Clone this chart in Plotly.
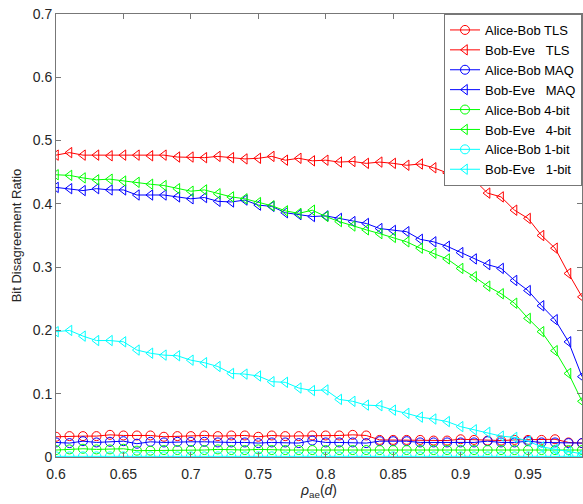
import plotly.graph_objects as go

x = [round(0.60 + 0.01 * i, 2) for i in range(40)]

ab_tls = [0.032, 0.033, 0.033, 0.033, 0.035, 0.034, 0.034, 0.034, 0.032, 0.033,
          0.033, 0.034, 0.033, 0.034, 0.034, 0.032, 0.034, 0.033, 0.033, 0.034,
          0.034, 0.034, 0.035, 0.034, 0.027, 0.027, 0.027, 0.027, 0.026, 0.026,
          0.028, 0.027, 0.026, 0.026, 0.027, 0.027, 0.027, 0.028, 0.023, 0.022]
be_tls = [0.477, 0.481, 0.477, 0.477, 0.476, 0.477, 0.477, 0.476, 0.477, 0.474,
          0.474, 0.473, 0.475, 0.473, 0.471, 0.472, 0.475, 0.469, 0.472, 0.468,
          0.469, 0.466, 0.467, 0.464, 0.466, 0.464, 0.461, 0.463, 0.457, 0.449,
          0.449, 0.438, 0.417, 0.411, 0.390, 0.377, 0.350, 0.330, 0.290, 0.253]
ab_maq = [0.023, 0.022, 0.025, 0.023, 0.024, 0.025, 0.021, 0.024, 0.023, 0.024,
          0.024, 0.024, 0.023, 0.023, 0.023, 0.022, 0.023, 0.023, 0.022, 0.026,
          0.023, 0.023, 0.023, 0.022, 0.025, 0.025, 0.025, 0.023, 0.023, 0.023,
          0.023, 0.023, 0.025, 0.023, 0.023, 0.025, 0.023, 0.023, 0.022, 0.022]
be_maq = [0.426, 0.424, 0.421, 0.424, 0.422, 0.422, 0.414, 0.414, 0.414, 0.411,
          0.408, 0.410, 0.404, 0.403, 0.406, 0.398, 0.396, 0.386, 0.383, 0.380,
          0.381, 0.377, 0.372, 0.369, 0.361, 0.358, 0.356, 0.344, 0.340, 0.333,
          0.323, 0.313, 0.304, 0.298, 0.279, 0.263, 0.239, 0.217, 0.182, 0.127]
ab_4bit = [0.011, 0.012, 0.013, 0.012, 0.012, 0.013, 0.010, 0.010, 0.011, 0.011,
           0.011, 0.011, 0.012, 0.011, 0.011, 0.012, 0.011, 0.011, 0.011, 0.011,
           0.011, 0.011, 0.011, 0.011, 0.011, 0.011, 0.011, 0.011, 0.011, 0.011,
           0.011, 0.011, 0.011, 0.011, 0.011, 0.011, 0.011, 0.011, 0.011, 0.011]
be_4bit = [0.446, 0.445, 0.441, 0.438, 0.439, 0.436, 0.434, 0.431, 0.429, 0.424,
           0.420, 0.422, 0.416, 0.411, 0.408, 0.402, 0.397, 0.389, 0.385, 0.390,
           0.380, 0.372, 0.365, 0.359, 0.353, 0.347, 0.340, 0.330, 0.322, 0.313,
           0.298, 0.285, 0.270, 0.258, 0.243, 0.219, 0.198, 0.168, 0.132, 0.088]
ab_1bit = [0.001] * 40
be_1bit = [0.198, 0.200, 0.191, 0.184, 0.184, 0.182, 0.169, 0.164, 0.161, 0.160,
           0.153, 0.149, 0.143, 0.132, 0.131, 0.128, 0.119, 0.118, 0.109, 0.105,
           0.106, 0.091, 0.088, 0.082, 0.081, 0.074, 0.069, 0.063, 0.060, 0.056,
           0.048, 0.043, 0.039, 0.033, 0.031, 0.025, 0.016, 0.012, 0.008, 0.005]

NB = "\u00a0"
series = [
    ("Alice-Bob TLS", ab_tls, "#ff0000", "circle-open"),
    ("Bob-Eve" + NB * 3 + "TLS", be_tls, "#ff0000", "triangle-left-open"),
    ("Alice-Bob MAQ", ab_maq, "#0000ff", "circle-open"),
    ("Bob-Eve" + NB * 3 + "MAQ", be_maq, "#0000ff", "triangle-left-open"),
    ("Alice-Bob 4-bit", ab_4bit, "#00ff00", "circle-open"),
    ("Bob-Eve" + NB * 3 + "4-bit", be_4bit, "#00ff00", "triangle-left-open"),
    ("Alice-Bob 1-bit", ab_1bit, "#00ffff", "circle-open"),
    ("Bob-Eve" + NB * 3 + "1-bit", be_1bit, "#00ffff", "triangle-left-open"),
]

fig = go.Figure()
for name, ys, col, sym in series:
    fig.add_trace(go.Scatter(
        x=x, y=ys, name=name, mode="lines+markers",
        line=dict(color=col, width=1),
        marker=dict(symbol=sym, size=9, color=col, line=dict(color=col, width=1)),
    ))

axis_common = dict(
    showgrid=False, zeroline=False, showline=True, linecolor="#777777", linewidth=1,
    mirror="ticks", ticks="inside", ticklen=5, tickcolor="#777777",
    tickfont=dict(family="Liberation Sans, Arial", size=14, color="#262626"),
)
fig.update_xaxes(range=[0.6, 0.99], tickvals=[0.6, 0.65, 0.7, 0.75, 0.8, 0.85, 0.9, 0.95],
                 ticktext=["0.6", "0.65", "0.7", "0.75", "0.8", "0.85", "0.9", "0.95"],
                 ticklabelstandoff=4,
                 title=dict(text="<i>ρ</i><sub>ae</sub>(<i>d</i>)", standoff=2,
                            font=dict(family="Liberation Sans, Arial", size=14, color="#262626")),
                 **axis_common)
fig.update_yaxes(range=[0, 0.7], tickvals=[0, 0.1, 0.2, 0.3, 0.4, 0.5, 0.6, 0.7],
                 ticktext=["0", "0.1", "0.2", "0.3", "0.4", "0.5", "0.6", "0.7"],
                 title=dict(text="Bit Disagreement Ratio", standoff=8,
                            font=dict(family="Liberation Sans, Arial", size=13, color="#262626")),
                 **axis_common)

fig.update_layout(
    width=583, height=504,
    margin=dict(l=56, r=1, t=14, b=47),
    plot_bgcolor="white", paper_bgcolor="white",
    font=dict(family="Liberation Sans, Arial", color="#262626"),
    legend=dict(x=1, y=1, xanchor="right", yanchor="top",
                bgcolor="white", bordercolor="#777777", borderwidth=1,
                font=dict(family="Liberation Sans, Arial", size=13, color="#000000"),
                itemwidth=30, tracegroupgap=0),
    showlegend=True,
)

fig.write_html("out.html", config={"displayModeBar": False},
               post_script="document.body.style.margin='0';document.body.style.overflow='hidden';")
